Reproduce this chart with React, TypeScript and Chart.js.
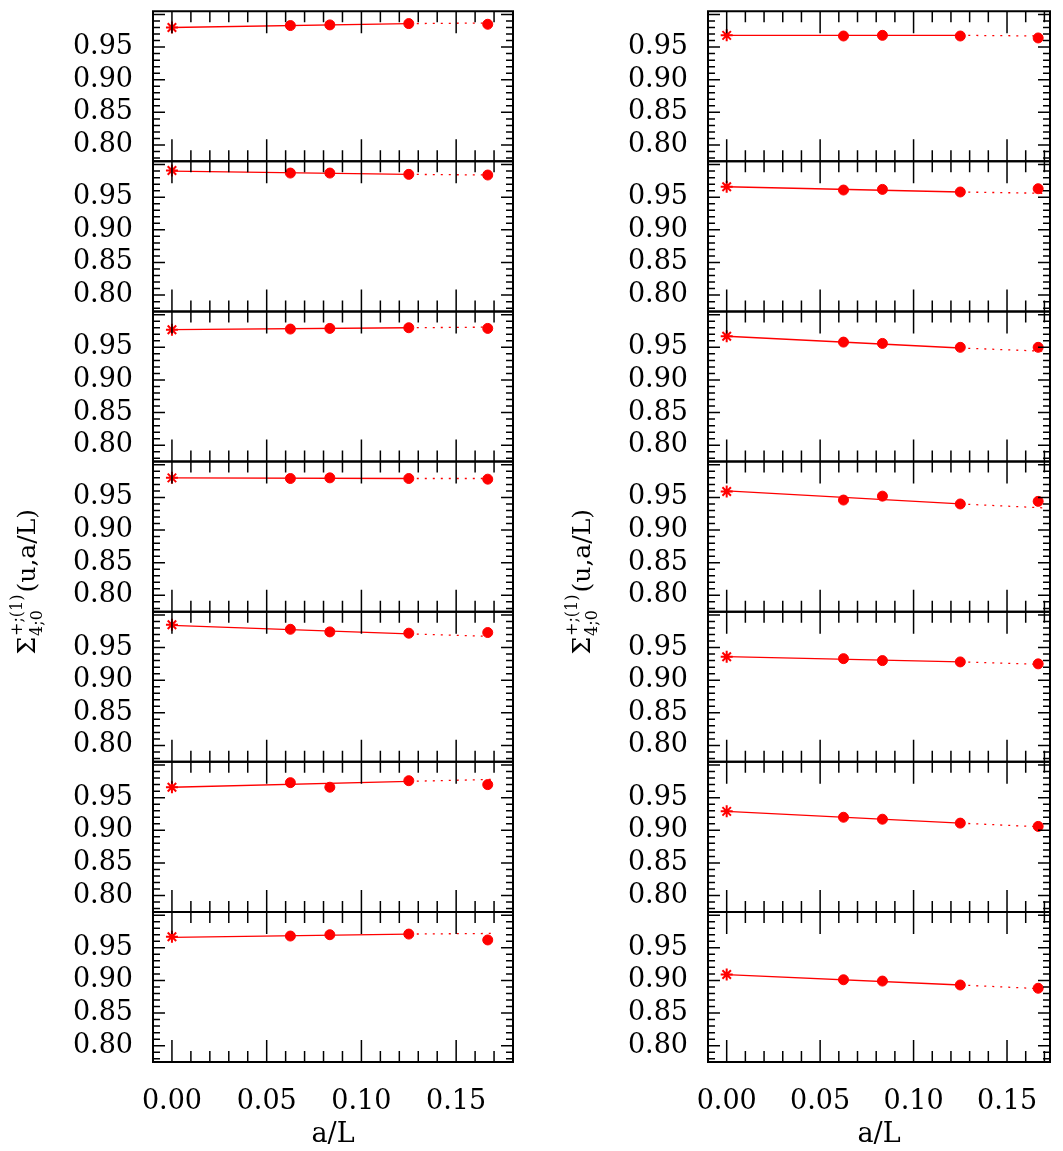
import React, { useRef, useEffect } from 'react';
import Chart from 'chart.js/auto';

// a/L values of the lattices; 0 is the continuum extrapolation
const aOverL = [0, 1 / 16, 1 / 12, 1 / 8, 1 / 6];

// measured step scaling values, one row per panel (top to bottom)
const leftValues = [
  [0.980, 0.983, 0.984, 0.986, 0.985],
  [0.991, 0.987, 0.987, 0.985, 0.984],
  [0.977, 0.978, 0.979, 0.980, 0.979],
  [0.980, 0.979, 0.980, 0.979, 0.978],
  [0.985, 0.978, 0.974, 0.972, 0.973],
  [0.966, 0.973, 0.966, 0.976, 0.970],
  [0.967, 0.968, 0.970, 0.971, 0.962],
];
const rightValues = [
  [0.968, 0.967, 0.968, 0.967, 0.964],
  [0.966, 0.961, 0.962, 0.958, 0.963],
  [0.967, 0.958, 0.956, 0.950, 0.950],
  [0.959, 0.946, 0.952, 0.940, 0.944],
  [0.936, 0.933, 0.930, 0.928, 0.925],
  [0.929, 0.920, 0.917, 0.911, 0.906],
  [0.909, 0.901, 0.899, 0.893, 0.888],
];
// linear fit: value at a/L = 0, 0.125 and the dotted end
const leftFit = [
  [0.980, 0.986, 0.987],
  [0.990, 0.985, 0.984],
  [0.977, 0.980, 0.981],
  [0.980, 0.979, 0.979],
  [0.984, 0.971, 0.967],
  [0.966, 0.975, 0.978],
  [0.966, 0.971, 0.972],
];
const rightFit = [
  [0.968, 0.968, 0.967],
  [0.966, 0.958, 0.956],
  [0.967, 0.949, 0.944],
  [0.960, 0.940, 0.934],
  [0.936, 0.928, 0.924],
  [0.929, 0.911, 0.905],
  [0.909, 0.893, 0.887],
];
const fitEndX = 0.17;
const yTicks = [0.80, 0.85, 0.90, 0.95];
const xTicks = [0.00, 0.05, 0.10, 0.15];

const FONT = '"DejaVu Serif", serif';
const RED = '#ff0000';
// the stacked y labels reserve ~17px above the top panel; shift the canvas up
const SHIFT = 17;
const H = 1151 + SHIFT;

const framePlugin = {
  id: 'frame',
  afterDraw(chart: any) {
    const ctx = chart.ctx;
    const { left, right } = chart.chartArea;
    const xs = chart.scales.x;
    ctx.save();
    ctx.strokeStyle = '#000';
    Object.keys(chart.scales).filter((k) => k !== 'x').forEach((k) => {
      const s = chart.scales[k];
      const t = s.top, b = s.bottom;
      ctx.lineWidth = 2;
      ctx.beginPath();
      ctx.rect(left, t, right - left, b - t);
      ctx.stroke();
      ctx.lineWidth = 1.5;
      for (let i = 78; i <= 100; i++) {
        const v = i / 100;
        if (v < s.min || v > s.max) continue;
        const p = s.getPixelForValue(v);
        const len = i % 5 === 0 ? 12 : 7;
        ctx.beginPath();
        ctx.moveTo(left, p); ctx.lineTo(left + len, p);
        ctx.moveTo(right, p); ctx.lineTo(right - len, p);
        ctx.stroke();
      }
      for (let i = -1; i <= 18; i++) {
        const v = i / 100;
        if (v < xs.min || v > xs.max) continue;
        const p = xs.getPixelForValue(v);
        const len = i % 5 === 0 ? 22 : 11;
        ctx.beginPath();
        ctx.moveTo(p, t); ctx.lineTo(p, t + len);
        ctx.moveTo(p, b); ctx.lineTo(p, b - len);
        ctx.stroke();
      }
    });
    ctx.restore();
  },
};

const titlePlugin = {
  id: 'ytitle',
  afterDraw(chart: any) {
    const ctx = chart.ctx;
    const cy = (chart.chartArea.top + chart.chartArea.bottom) / 2;
    ctx.save();
    ctx.translate(25, cy);
    ctx.rotate(-Math.PI / 2);
    ctx.fillStyle = '#000';
    ctx.textBaseline = 'alphabetic';
    const main = `25px ${FONT}`;
    const small = `16px ${FONT}`;
    const x0 = -118;
    ctx.font = main;
    ctx.fillText('Σ', x0, 10);
    const w = ctx.measureText('Σ').width;
    ctx.font = small;
    ctx.fillText('+;(1)', x0 + w + 1, -3);
    ctx.fillText('4;0', x0 + w + 1, 17);
    const w2 = ctx.measureText('+;(1)').width;
    ctx.font = main;
    ctx.fillText('(u,a/L)', x0 + w + w2 + 3, 10);
    ctx.restore();
  },
};

function buildConfig(values: number[][], fits: number[][], xMax: number, rightPad: number): any {
  const datasets: any[] = [];
  const scales: any = {
    x: {
      type: 'linear', min: -0.01, max: xMax,
      grid: { display: false }, border: { display: false },
      afterBuildTicks: (s: any) => { s.ticks = xTicks.map((v) => ({ value: v })); },
      afterFit: (s: any) => { s.height = 89; },
      ticks: { color: '#000', font: { family: FONT, size: 27 }, padding: 16, maxRotation: 0, autoSkip: false,
        callback: (v: number) => v.toFixed(2) },
      title: { display: true, text: 'a/L', color: '#000', font: { family: FONT, size: 27 }, padding: 0 },
    },
  };
  // stacked axes are laid out bottom-up, so define them from the bottom panel
  for (let i = values.length - 1; i >= 0; i--) {
    scales['y' + i] = {
      type: 'linear', min: 0.775, max: 1.005, stack: 'col', stackWeight: 1, offset: false,
      position: 'left', grid: { display: false }, border: { display: false },
      afterBuildTicks: (s: any) => { s.ticks = yTicks.map((v) => ({ value: v })); },
      afterFit: (s: any) => { s.width = 153; },
      ticks: { color: '#000', font: { family: FONT, size: 27 }, padding: 12, autoSkip: false,
        callback: (v: number) => v.toFixed(2) },
    };
  }
  values.forEach((row, i) => {
    const id = 'y' + i;
    const f = fits[i];
    datasets.push({
      type: 'scatter', yAxisID: id, showLine: false,
      data: aOverL.map((x, j) => ({ x, y: row[j] })),
      pointStyle: aOverL.map((_, j) => (j === 0 ? 'star' : 'circle')),
      pointRadius: aOverL.map((_, j) => (j === 0 ? 6 : 5)),
      backgroundColor: RED, borderColor: RED, borderWidth: aOverL.map((_, j) => (j === 0 ? 2 : 1)),
    });
    datasets.push({
      type: 'line', yAxisID: id, data: [{ x: 0, y: f[0] }, { x: 1 / 8, y: f[1] }],
      borderColor: RED, borderWidth: 1.3, pointRadius: 0, fill: false,
    });
    datasets.push({
      type: 'line', yAxisID: id, data: [{ x: 1 / 8, y: f[1] }, { x: fitEndX, y: f[2] }],
      borderColor: RED, borderWidth: 1.3, borderDash: [2, 6], pointRadius: 0, fill: false,
    });
  });
  return {
    type: 'scatter',
    data: { datasets },
    options: {
      animation: false, responsive: false, maintainAspectRatio: false,
      layout: { padding: { top: 10, right: rightPad, left: 0, bottom: 0 } },
      plugins: { legend: { display: false }, tooltip: { enabled: false } },
      scales,
    },
    plugins: [framePlugin, titlePlugin],
  };
}

const Column: React.FC<{ values: number[][]; fits: number[][]; left: number; width: number; xMax: number; rightPad: number }> =
  ({ values, fits, left, width, xMax, rightPad }) => {
    const ref = useRef<HTMLCanvasElement>(null);
    useEffect(() => {
      if (!ref.current) return;
      const chart = new Chart(ref.current, buildConfig(values, fits, xMax, rightPad));
      return () => chart.destroy();
    }, [values, fits, xMax, rightPad]);
    return (
      <canvas ref={ref} width={width} height={H}
        style={{ position: 'absolute', left, top: -SHIFT, width, height: H }} />
    );
  };

export default function App() {
  return (
    <div style={{ position: 'absolute', left: 0, top: 0, width: 1063, height: 1151, overflow: 'hidden', background: '#fff' }}>
      <Column values={leftValues} fits={leftFit} left={0} width={530} xMax={0.18} rightPad={17} />
      <Column values={rightValues} fits={rightFit} left={555} width={508} xMax={0.173} rightPad={13} />
    </div>
  );
}
